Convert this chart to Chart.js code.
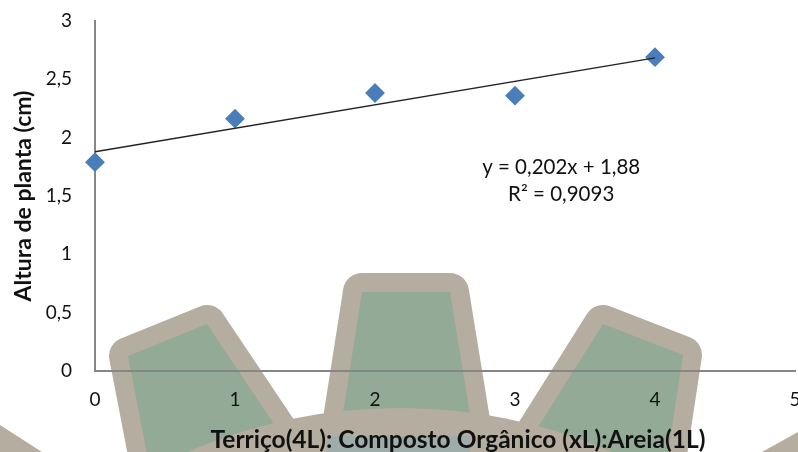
<!DOCTYPE html>
<html lang="pt">
<head>
    <meta charset="UTF-8">
    <title>Altura de planta</title>
    <script src="https://cdn.jsdelivr.net/npm/chart.js"></script>
    <style>
        html, body {
            margin: 0;
            padding: 0;
            background: #ffffff;
            overflow: hidden;
        }
        #wrap {
            position: relative;
            width: 798px;
            height: 452px;
        }
        #gear, #graph {
            position: absolute;
            left: 0;
            top: 0;
        }
    </style>
</head>
<body>
    <div id="wrap">
        <!-- watermark behind the chart -->
        <svg id="gear" width="798" height="452" viewBox="0 0 798 452">
            <g fill="#93aa96" stroke="#b5ad9f" stroke-width="38" stroke-linejoin="round" paint-order="stroke">
                <path d="M128 356 L207 324 L278 430 L152 480 Z"/>
                <path d="M362 292 L450 292 L475 445 L338 445 Z"/>
                <path d="M603 324 L683 355 L664 480 L530 440 Z"/>
            </g>
            <path d="M0 425 L42 452 L0 452 Z" fill="#b5ad9f"/>
            <path d="M798 432 L762 452 L798 452 Z" fill="#b5ad9f"/>
            <circle cx="400" cy="944" r="536" fill="#b5ad9f"/>
            <rect x="327" y="436" width="143" height="16" fill="#9fadaa"/>
        </svg>
        <canvas id="graph" width="798" height="452"></canvas>
    </div>

    <script>
        const xValues = [0, 1, 2, 3, 4];
        const alturaValues = [1.79, 2.163, 2.383, 2.36, 2.69];
        const trendX = [0, 4];
        const trendY = [1.88, 2.684];
        const equationLines = ['y = 0,202x + 1,88', 'R² = 0,9093'];
        const xTitle = 'Terriço(4L): Composto Orgânico (xL):Areia(1L)';
        const yTitle = 'Altura de planta (cm)';

        const fontName = 'Lato, "Noto Sans", sans-serif';

        const toPairs = (xs, ys) => xs.map((x, i) => ({ x: x, y: ys[i] }));
        const comma = (v) => String(v).replace('.', ',');

        // equation label and x title sit off-centre in the original, so draw them by hand
        const extraText = {
            id: 'extraText',
            afterDatasetsDraw(chart) {
                const ctx = chart.ctx;
                const px = chart.scales.x.getPixelForValue(3.33);
                const py = chart.scales.y.getPixelForValue(1.63);
                ctx.save();
                ctx.fillStyle = '#111111';
                ctx.textAlign = 'center';
                ctx.textBaseline = 'middle';
                ctx.font = '20.5px ' + fontName;
                ctx.fillText(equationLines[0], px, py - 13);
                ctx.fillText(equationLines[1], px, py + 14);
                ctx.font = 'bold 24.5px ' + fontName;
                ctx.fillText(xTitle, 458, 440);
                ctx.restore();
            }
        };

        new Chart(document.getElementById('graph').getContext('2d'), {
            type: 'scatter',
            data: {
                datasets: [
                    {
                        label: 'Altura',
                        data: toPairs(xValues, alturaValues),
                        backgroundColor: '#4a7ebb',
                        borderColor: '#4a7ebb',
                        borderWidth: 2,
                        pointStyle: 'rectRot',
                        pointRadius: 8.5,
                        clip: false,
                        order: 2
                    },
                    {
                        label: 'Tendência',
                        type: 'line',
                        data: toPairs(trendX, trendY),
                        borderColor: '#222222',
                        borderWidth: 1.5,
                        pointRadius: 0,
                        fill: false,
                        order: 1
                    }
                ]
            },
            options: {
                responsive: false,
                animation: false,
                layout: { autoPadding: false, padding: { top: 21, right: 3, left: 0, bottom: 0 } },
                plugins: { legend: { display: false }, tooltip: { enabled: false } },
                scales: {
                    x: {
                        type: 'linear',
                        min: 0,
                        max: 5,
                        afterFit(scale) {
                            scale.height = 81;
                            scale.paddingLeft = 0;
                            scale.paddingRight = 0;
                        },
                        grid: { display: false },
                        border: { color: '#868686', width: 2 },
                        ticks: {
                            stepSize: 1,
                            color: '#111111',
                            padding: 9,
                            maxRotation: 0,
                            font: { family: fontName, size: 19 },
                            callback: comma
                        }
                    },
                    y: {
                        min: 0,
                        max: 3,
                        afterFit(scale) {
                            scale.width = 95;
                            scale.paddingTop = 0;
                            scale.paddingBottom = 0;
                        },
                        grid: { display: false },
                        border: { color: '#868686', width: 2 },
                        ticks: {
                            stepSize: 0.5,
                            color: '#111111',
                            padding: 15,
                            font: { family: fontName, size: 19 },
                            callback: comma
                        },
                        title: {
                            display: true,
                            text: yTitle,
                            color: '#111111',
                            padding: { top: 10, bottom: 0 },
                            font: { family: fontName, size: 23, weight: 'bold' }
                        }
                    }
                }
            },
            plugins: [extraText]
        });
    </script>
</body>
</html>
